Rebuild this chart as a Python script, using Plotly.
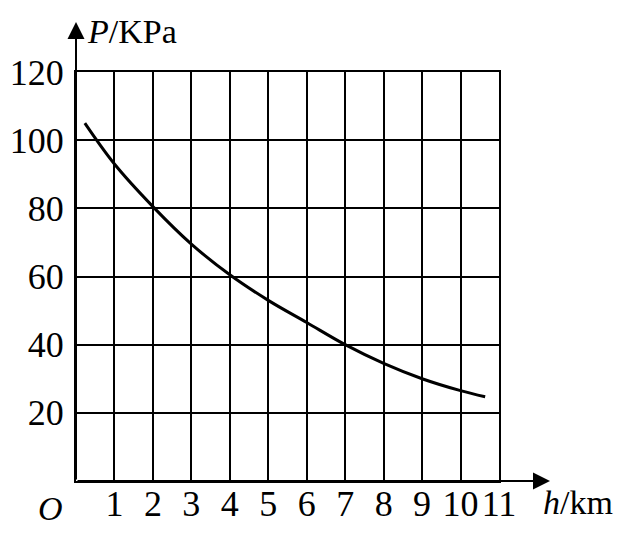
import plotly.graph_objects as go

# Data
h_km = [0.23, 1, 2, 3, 4, 5, 6, 7, 8, 9, 10, 10.64]
p_kpa = [105, 93, 80.5, 69.5, 60.5, 53, 46.5, 40, 34.5, 30, 26.5, 24.7]

x_ticks = [1, 2, 3, 4, 5, 6, 7, 8, 9, 10, 11]
x_ticktext = ["1", "2", "3", "4", "5", "6", "7", "8", "9", "10", "11"]
y_ticks = [20, 40, 60, 80, 100, 120]
y_ticktext = ["20", "40", "60", "80", "100", "120"]

FONT = "Liberation Serif"

fig = go.Figure()
fig.add_trace(go.Scatter(
    x=h_km, y=p_kpa, mode="lines",
    line=dict(color="black", width=3, shape="spline", smoothing=1.0),
    showlegend=False, hoverinfo="skip",
))

axis_common = dict(
    showgrid=True, gridcolor="black", gridwidth=2,
    showline=True, linecolor="black", linewidth=2, mirror=True,
    zeroline=False, ticks="", automargin=False,
    tickfont=dict(family=FONT, size=36, color="black"),
)

fig.update_layout(
    template="none",
    width=629, height=533,
    margin=dict(l=68, r=138, t=64, b=60),
    paper_bgcolor="white", plot_bgcolor="white",
    xaxis=dict(range=[0, 11], tickvals=x_ticks, ticktext=x_ticktext,
               ticklabelstandoff=-10, **axis_common),
    yaxis=dict(range=[0, 120], tickvals=y_ticks, ticktext=y_ticktext,
               ticklabelstandoff=3, **axis_common),
)

# Axis arrows
fig.add_annotation(xref="paper", yref="paper", x=0, y=1.122, text="",
                   showarrow=True, ax=0, ay=459, axref="pixel", ayref="pixel",
                   arrowhead=2, arrowsize=1.7, arrowwidth=2, arrowcolor="black")
fig.add_annotation(xref="paper", yref="paper", x=1.1206, y=0, text="",
                   showarrow=True, ax=-474, ay=0, axref="pixel", ayref="pixel",
                   arrowhead=2, arrowsize=1.7, arrowwidth=2, arrowcolor="black")

# Axis titles
fig.add_annotation(xref="paper", yref="paper", x=0.022, y=1.098, xanchor="left",
                   yanchor="middle", text="<i>P</i>/KPa", showarrow=False,
                   font=dict(family=FONT, size=34, color="black"))
fig.add_annotation(xref="paper", yref="paper", x=1.10, y=-0.052, xanchor="left",
                   yanchor="middle", text="<i>h</i>/km", showarrow=False,
                   font=dict(family=FONT, size=34, color="black"))
fig.add_annotation(xref="paper", yref="paper", x=-0.061, y=-0.068, xanchor="center",
                   yanchor="middle", text="<i>O</i>", showarrow=False,
                   font=dict(family=FONT, size=34, color="black"))

fig.write_html("out.html")
